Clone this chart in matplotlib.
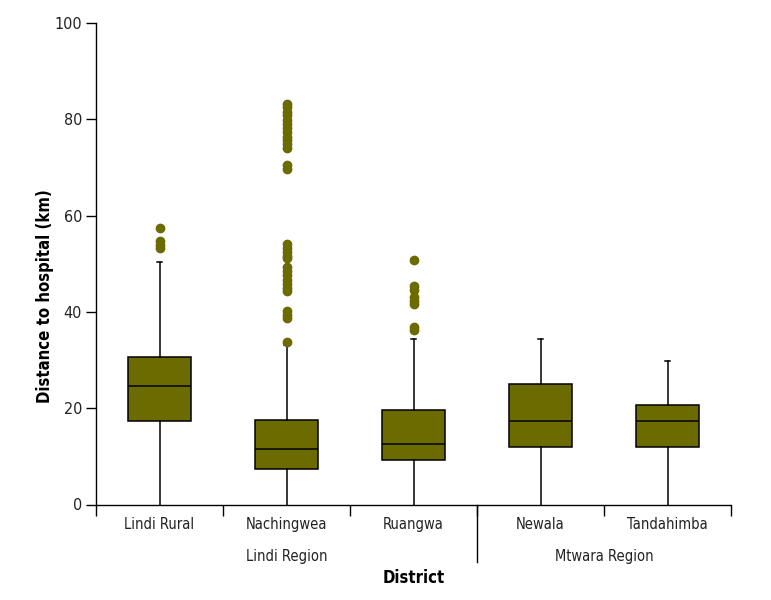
import matplotlib
matplotlib.use('Agg')
import matplotlib.pyplot as plt

plt.rcParams['font.family'] = ['DejaVu Sans']
plt.rcParams['font.stretch'] = 'condensed'

# данные
districts = ['Lindi Rural', 'Nachingwea', 'Ruangwa', 'Newala', 'Tandahimba']
regions = ['Lindi Region', 'Mtwara Region']
region_sizes = [3, 2]

q1 = [17.4, 7.4, 9.3, 11.9, 12.0]
med = [24.6, 11.5, 12.5, 17.4, 17.3]
q3 = [30.7, 17.5, 19.6, 25.1, 20.6]
whis_lo = [0, 0, 0, 0, 0]
whis_hi = [50.4, 33.2, 34.3, 34.4, 29.7]

outliers_lindi = [57.4, 54.7, 53.9, 53.3]
outliers_nach = [83.2, 82.5, 81.6, 80.8, 79.9, 79.0, 78.2, 77.3, 76.4, 75.6,
                 74.8, 74.0, 70.5, 69.6,
                 54.0, 53.2, 52.4, 51.7, 51.1,
                 49.3, 48.5, 47.6, 46.7, 45.8, 45.0, 44.3,
                 40.1, 39.4, 38.7, 33.8]
outliers_ruang = [50.7, 45.3, 44.6, 43.0, 42.3, 41.6, 36.8, 36.3]
outliers_newala = []
outliers_tanda = []
outliers = [outliers_lindi, outliers_nach, outliers_ruang, outliers_newala, outliers_tanda]

COLOR = '#6B6B00'

stats = []
for i in range(len(districts)):
    stats.append({'q1': q1[i], 'med': med[i], 'q3': q3[i],
                  'whislo': whis_lo[i], 'whishi': whis_hi[i],
                  'fliers': outliers[i], 'label': districts[i]})

fig = plt.figure(figsize=(7.71, 6.0), dpi=100)
ax = fig.add_axes([96 / 771, 1 - 504.5 / 600, 635 / 771, 481.5 / 600])

positions = list(range(1, len(districts) + 1))
bp = ax.bxp(stats, positions=positions, widths=0.49, capwidths=0.045,
            patch_artist=True, manage_ticks=False,
            boxprops=dict(facecolor=COLOR, edgecolor='black', linewidth=1.1),
            medianprops=dict(color='black', linewidth=1.1),
            whiskerprops=dict(color='black', linewidth=1.1),
            capprops=dict(color='black', linewidth=1.1),
            flierprops=dict(marker='o', markerfacecolor=COLOR, markeredgecolor=COLOR,
                            markersize=6))
# нижние "усы" упираются в ось — без засечки
for cap in bp['caps'][0::2]:
    cap.set_visible(False)

ax.set_xlim(0.5, len(districts) + 0.5)
ax.set_ylim(0, 100)
ax.set_yticks([0, 20, 40, 60, 80, 100])
ax.tick_params(axis='y', length=7, width=1, labelsize=11.5, pad=3, labelcolor='#222222')

# границы категорий — большие тики без подписей, названия — минорные тики
ax.set_xticks([p + 0.5 for p in range(0, len(districts) + 1)])
ax.set_xticklabels([])
ax.set_xticks(positions, minor=True)
ax.set_xticklabels(districts, minor=True)
ax.tick_params(axis='x', which='major', length=8, width=1, direction='out')
ax.tick_params(axis='x', which='minor', length=0, pad=9, labelsize=10.5,
               labelcolor='#222222')

for s in ['top', 'right']:
    ax.spines[s].set_visible(False)
for s in ['left', 'bottom']:
    ax.spines[s].set_linewidth(1)

# регионы
trans = ax.get_xaxis_transform()
start = 0.5
for name, n in zip(regions, region_sizes):
    center = start + n / 2
    ax.text(center, -0.107, name, transform=trans, ha='center', va='center',
            fontsize=10.5, color='#222222')
    start += n
sep = 0.5 + region_sizes[0]
ax.plot([sep, sep], [0, -0.12], transform=trans, color='black', linewidth=1,
        clip_on=False)

ax.set_ylabel('Distance to hospital (km)', fontsize=12, fontweight='bold')
ax.yaxis.set_label_coords(-42 / 635, 0.432)
ax.set_xlabel('District', fontsize=12, fontweight='bold')
ax.xaxis.set_label_coords(0.5, -(578 - 504.5) / 481.5)
ax.xaxis.label.set_va('center')

plt.savefig('out.png', dpi=100)
plt.close()
